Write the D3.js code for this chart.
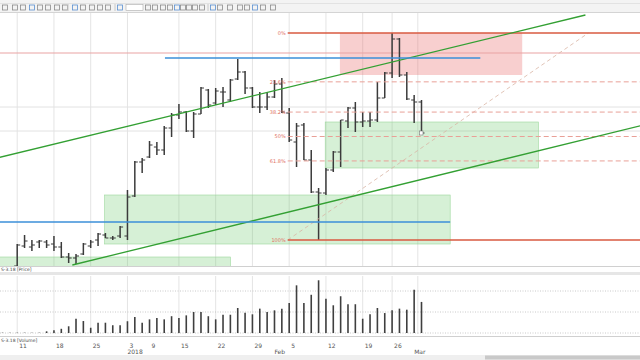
<!DOCTYPE html>
<html lang="en">
<head>
<meta charset="utf-8">
<title>S-3.18 price and volume</title>
<script src="https://d3js.org/d3.v7.min.js"></script>
<style type="text/css">
  body { margin: 0; background: #fff; }
  svg { width: 640px; height: 360px; display: block; font-family: "DejaVu Sans", Arial, sans-serif; }
  .tick { font-size: 6px; fill: #555; }
  .panelLabel { font-size: 4.5px; fill: #444; }
  .fibLabel { font-size: 5px; fill: #e0705e; }
</style>
</head>
<body>
<svg></svg>
<script type="text/javascript">

// daily bars, Dec 2017 - Mar 2018 (price units)
const openVals  = [-12,-10,0,20,19,24,24,22,19,9,8,12,20,26,31,28,30,30,70,104,109,119,116,138,151,154,135,152,176,163,
                   174,166,187,194,178,159,159,169,182,153,124,141,106,74,73,96,114,145,158,144,145,146,168,193,227,191,166,164];
const highVals  = [-6,-3,22,31,26,26,26,30,24,13,12,23,26,33,33,30,40,76,105,108,125,124,140,153,162,155,154,179,177,178,
                   179,187,207,195,179,174,174,186,188,158,143,143,116,78,98,115,146,159,164,154,154,184,194,233,228,194,171,166];
const lowVals   = [-16,-12,-2,18,15,18,18,15,8,3,2,11,18,20,28,26,28,26,69,93,108,111,111,129,147,134,128,152,158,161,
                   159,164,186,172,158,153,156,168,153,124,99,106,73,26,71,94,99,138,134,139,139,144,168,188,189,166,143,131];
const closeVals = [-10,-5,21,25,21,25,21,19,9,8,10,22,24,32,28,28,39,69,104,106,121,116,138,151,154,135,152,178,161,175,
                   174,186,194,178,159,159,169,182,154,126,140,106,74,73,96,114,146,158,144,145,146,168,193,227,191,167,164,133];
const volumeVals = [1.5,1.5,1.5,1.5,1.5,1.5,8,13,20,32,68,57,25,49,49,37,37,56,76,49,65,71,65,80,71,84,100,100,80,65,
                    87,87,119,97,89,116,100,108,116,143,227,143,182,251,163,132,175,137,137,68,89,119,95,108,116,111,206,148];

// date ticks (bar index)
const tickLabels = ["11","18","25","3","9","15","22","29","5","12","19","26"];
const tickIdx    = [2, 7, 12, 17, 20, 24, 29, 34, 39, 44, 49, 53];
const gridIdx    = [2, 7, 12, 17, 24, 29, 34, 39, 44, 49, 53, 56.5];
const monthLabels = ["2018", "Feb", "Mar"];
const monthIdx    = [17, 37, 56];

// fibonacci retracement
const fibLevels = [0, 0.236, 0.382, 0.5, 0.618, 1];
const fibNames  = ["0%", "23.6%", "38.2%", "50%", "61.8%", "100%"];
const fibFrom = [38.8, 26];   // [bar index, price]
const fibTo   = [79.7, 233];

// drawings [x1, y1, x2, y2] in bar index / price
const trendUpper = [-0.4, 108.6, 79.3, 251];
const trendLower = [9.5, 1, 90, 146];
const blueLines  = [[22.1, 208, 65, 208], [-1, 44, 60.9, 44]];
const greenRects = [[13.9, 71, 60.9, 22], [43.9, 144, 72.9, 98], [-1, 9, 31, -20]];
const redRects   = [[45.9, 233, 70.7, 191]];
const priceGrid  = [159, 135];
const redLevel   = 213;
const volGrid    = [0, 100, 200];

const W = 640;
const svg = d3.select("svg");

const x = d3.scaleLinear().domain([0, 57]).range([2.5, 421.5]);
const yP = d3.scaleLinear().domain([0, 254]).range([266, 12]);
const yV = d3.scaleLinear().domain([0, 100]).range([333, 312]);

// ---- toolbar
svg.append("rect").attr("x", 0).attr("y", 0).attr("width", W).attr("height", 13).attr("fill", "#f3f3f3");
svg.append("line").attr("x1", 0).attr("x2", W).attr("y1", 3.5).attr("y2", 3.5).attr("stroke", "#e2e2e2");
svg.append("line").attr("x1", 0).attr("x2", W).attr("y1", 12.5).attr("y2", 12.5).attr("stroke", "#d4d4d4");
const icons = [5,15,23,32,40,48,57,65,75,83,92,100,108,120,148,155,163,170,177,183,189,195,202,213,220,230,240,247,255,263,273];
svg.selectAll(".icon").data(icons).enter().append("rect")
  .attr("x", d => d - 2.5).attr("y", 5).attr("width", 5).attr("height", 5)
  .attr("fill", "none").attr("stroke", (d, i) => i % 5 == 3 ? "#5a8fd0" : "#8a8a8a").attr("stroke-width", 0.8);
svg.append("rect").attr("x", 126).attr("y", 4.5).attr("width", 17).attr("height", 6).attr("fill", "#fff").attr("stroke", "#aaa").attr("stroke-width", 0.6);
[68, 115, 208].forEach(s => svg.append("line").attr("x1", s).attr("x2", s).attr("y1", 4).attr("y2", 11).attr("stroke", "#c8c8c8"));

// ---- clip paths
const defs = svg.append("defs");
defs.append("clipPath").attr("id", "clipP").append("rect").attr("x", 0).attr("y", 13).attr("width", W).attr("height", 253);
defs.append("clipPath").attr("id", "clipV").append("rect").attr("x", 0).attr("y", 276).attr("width", W).attr("height", 58);

const gp = svg.append("g").attr("clip-path", "url(#clipP)");
const gv = svg.append("g").attr("clip-path", "url(#clipV)");

// grid
gp.selectAll(".vg").data(gridIdx).enter().append("line")
  .attr("x1", d => x(d)).attr("x2", d => x(d)).attr("y1", 13).attr("y2", 266)
  .attr("stroke", "#e4e4e4").attr("stroke-width", 1);
gp.selectAll(".hg").data(priceGrid).enter().append("line")
  .attr("x1", 0).attr("x2", W).attr("y1", d => yP(d)).attr("y2", d => yP(d))
  .attr("stroke", "#e2e2e2").attr("stroke-width", 1);
gv.selectAll(".vg").data(gridIdx).enter().append("line")
  .attr("x1", d => x(d)).attr("x2", d => x(d)).attr("y1", 276).attr("y2", 334)
  .attr("stroke", "#e4e4e4").attr("stroke-width", 1);
gv.selectAll(".hg").data(volGrid).enter().append("line")
  .attr("x1", 0).attr("x2", W).attr("y1", d => yV(d)).attr("y2", d => yV(d))
  .attr("stroke", "#bdbdbd").attr("stroke-width", 0.8).attr("stroke-dasharray", "1,1.5");

// rectangles
gp.selectAll(".gr").data(greenRects).enter().append("rect")
  .attr("x", d => x(d[0])).attr("y", d => yP(d[1]))
  .attr("width", d => x(d[2]) - x(d[0])).attr("height", d => yP(d[3]) - yP(d[1]))
  .attr("fill", "#5cc45c").attr("fill-opacity", 0.25)
  .attr("stroke", "#9bd89b").attr("stroke-width", 0.6);
gp.selectAll(".rr").data(redRects).enter().append("rect")
  .attr("x", d => x(d[0])).attr("y", d => yP(d[1]))
  .attr("width", d => x(d[2]) - x(d[0])).attr("height", d => yP(d[3]) - yP(d[1]))
  .attr("fill", "#e86a6a").attr("fill-opacity", 0.32);

// thin red level
gp.append("line").attr("x1", 0).attr("x2", W).attr("y1", yP(redLevel)).attr("y2", yP(redLevel))
  .attr("stroke", "#e9a3a3").attr("stroke-width", 1);

// price bars
const bars = d3.range(openVals.length);
const gb = gp.append("g").attr("stroke", "#3b3b3b");
gb.selectAll(".hl").data(bars).enter().append("line")
  .attr("x1", i => x(i)).attr("x2", i => x(i))
  .attr("y1", i => yP(highVals[i])).attr("y2", i => yP(lowVals[i]))
  .attr("stroke-width", 1.5);
gb.selectAll(".op").data(bars).enter().append("line")
  .attr("x1", i => x(i) - 3).attr("x2", i => x(i))
  .attr("y1", i => yP(openVals[i])).attr("y2", i => yP(openVals[i]))
  .attr("stroke-width", 1);
gb.selectAll(".cl").data(bars).enter().append("line")
  .attr("x1", i => x(i)).attr("x2", i => x(i) + 3)
  .attr("y1", i => yP(closeVals[i])).attr("y2", i => yP(closeVals[i]))
  .attr("stroke-width", 1);

// fibonacci
const fibPrice = l => fibTo[1] - l * (fibTo[1] - fibFrom[1]);
gp.append("line")
  .attr("x1", x(fibFrom[0])).attr("y1", yP(fibFrom[1])).attr("x2", x(fibTo[0])).attr("y2", yP(fibTo[1]))
  .attr("stroke", "#d9b5a5").attr("stroke-width", 0.8).attr("stroke-dasharray", "4,3");
gp.selectAll(".fib").data(fibLevels).enter().append("line")
  .attr("x1", x(fibFrom[0])).attr("x2", W)
  .attr("y1", d => yP(fibPrice(d))).attr("y2", d => yP(fibPrice(d)))
  .attr("stroke", d => (d == 0 || d == 1) ? "#d95a40" : "#e9a097")
  .attr("stroke-width", d => (d == 0 || d == 1) ? 1.3 : 1)
  .attr("stroke-dasharray", d => (d == 0 || d == 1) ? null : "5,3");
gp.selectAll(".fibt").data(fibLevels).enter().append("text")
  .attr("class", "fibLabel")
  .attr("x", x(fibFrom[0]) - 2).attr("y", d => yP(fibPrice(d)))
  .attr("dy", "0.35em").attr("text-anchor", "end")
  .text((d, i) => fibNames[i]);

// trend lines
[trendUpper, trendLower].forEach(t => {
  gp.append("line")
    .attr("x1", x(t[0])).attr("y1", yP(t[1])).attr("x2", x(t[2])).attr("y2", yP(t[3]))
    .attr("stroke", "#33a033").attr("stroke-width", 1.3);
});
gp.selectAll(".bl").data(blueLines).enter().append("line")
  .attr("x1", d => x(d[0])).attr("y1", d => yP(d[1])).attr("x2", d => x(d[2])).attr("y2", d => yP(d[3]))
  .attr("stroke", "#3b8fd8").attr("stroke-width", 1.3);

// cursor box on last bar
gp.append("rect").attr("x", x(57) - 2).attr("y", yP(lowVals[57]) - 4).attr("width", 3.5).attr("height", 4)
  .attr("fill", "#fff").attr("stroke", "#777").attr("stroke-width", 0.6);

// volume
gv.selectAll(".vol").data(bars).enter().append("line")
  .attr("x1", i => x(i)).attr("x2", i => x(i))
  .attr("y1", yV(0)).attr("y2", i => yV(volumeVals[i]))
  .attr("stroke", "#3f3f3f").attr("stroke-width", 1.6);

// panel borders and separators
svg.append("line").attr("x1", 0).attr("x2", W).attr("y1", 266.5).attr("y2", 266.5).attr("stroke", "#d0d0d0");
svg.append("rect").attr("x", 0).attr("y", 272).attr("width", W).attr("height", 3).attr("fill", "#e6e6e6");
svg.append("line").attr("x1", 0).attr("x2", W).attr("y1", 336.5).attr("y2", 336.5).attr("stroke", "#d0d0d0");
svg.append("text").attr("class", "panelLabel").attr("x", 1).attr("y", 271).text("S-3.18 [Price]");
svg.append("text").attr("class", "panelLabel").attr("x", 1).attr("y", 342).text("S-3.18 [Volume]");

// date axis
svg.selectAll(".tk").data(tickIdx).enter().append("text")
  .attr("class", "tick").attr("x", d => x(d) + 2).attr("y", 348)
  .text((d, i) => tickLabels[i]);
svg.selectAll(".mk").data(monthIdx).enter().append("text")
  .attr("class", "tick").attr("x", d => x(d)).attr("y", 354)
  .text((d, i) => monthLabels[i]);

// scrollbar
svg.append("rect").attr("x", 0).attr("y", 355).attr("width", W).attr("height", 5).attr("fill", "#efefef");
svg.append("rect").attr("x", 485).attr("y", 355.5).attr("width", 155).attr("height", 4).attr("fill", "#c9c9c9");

</script>
</body>
</html>
